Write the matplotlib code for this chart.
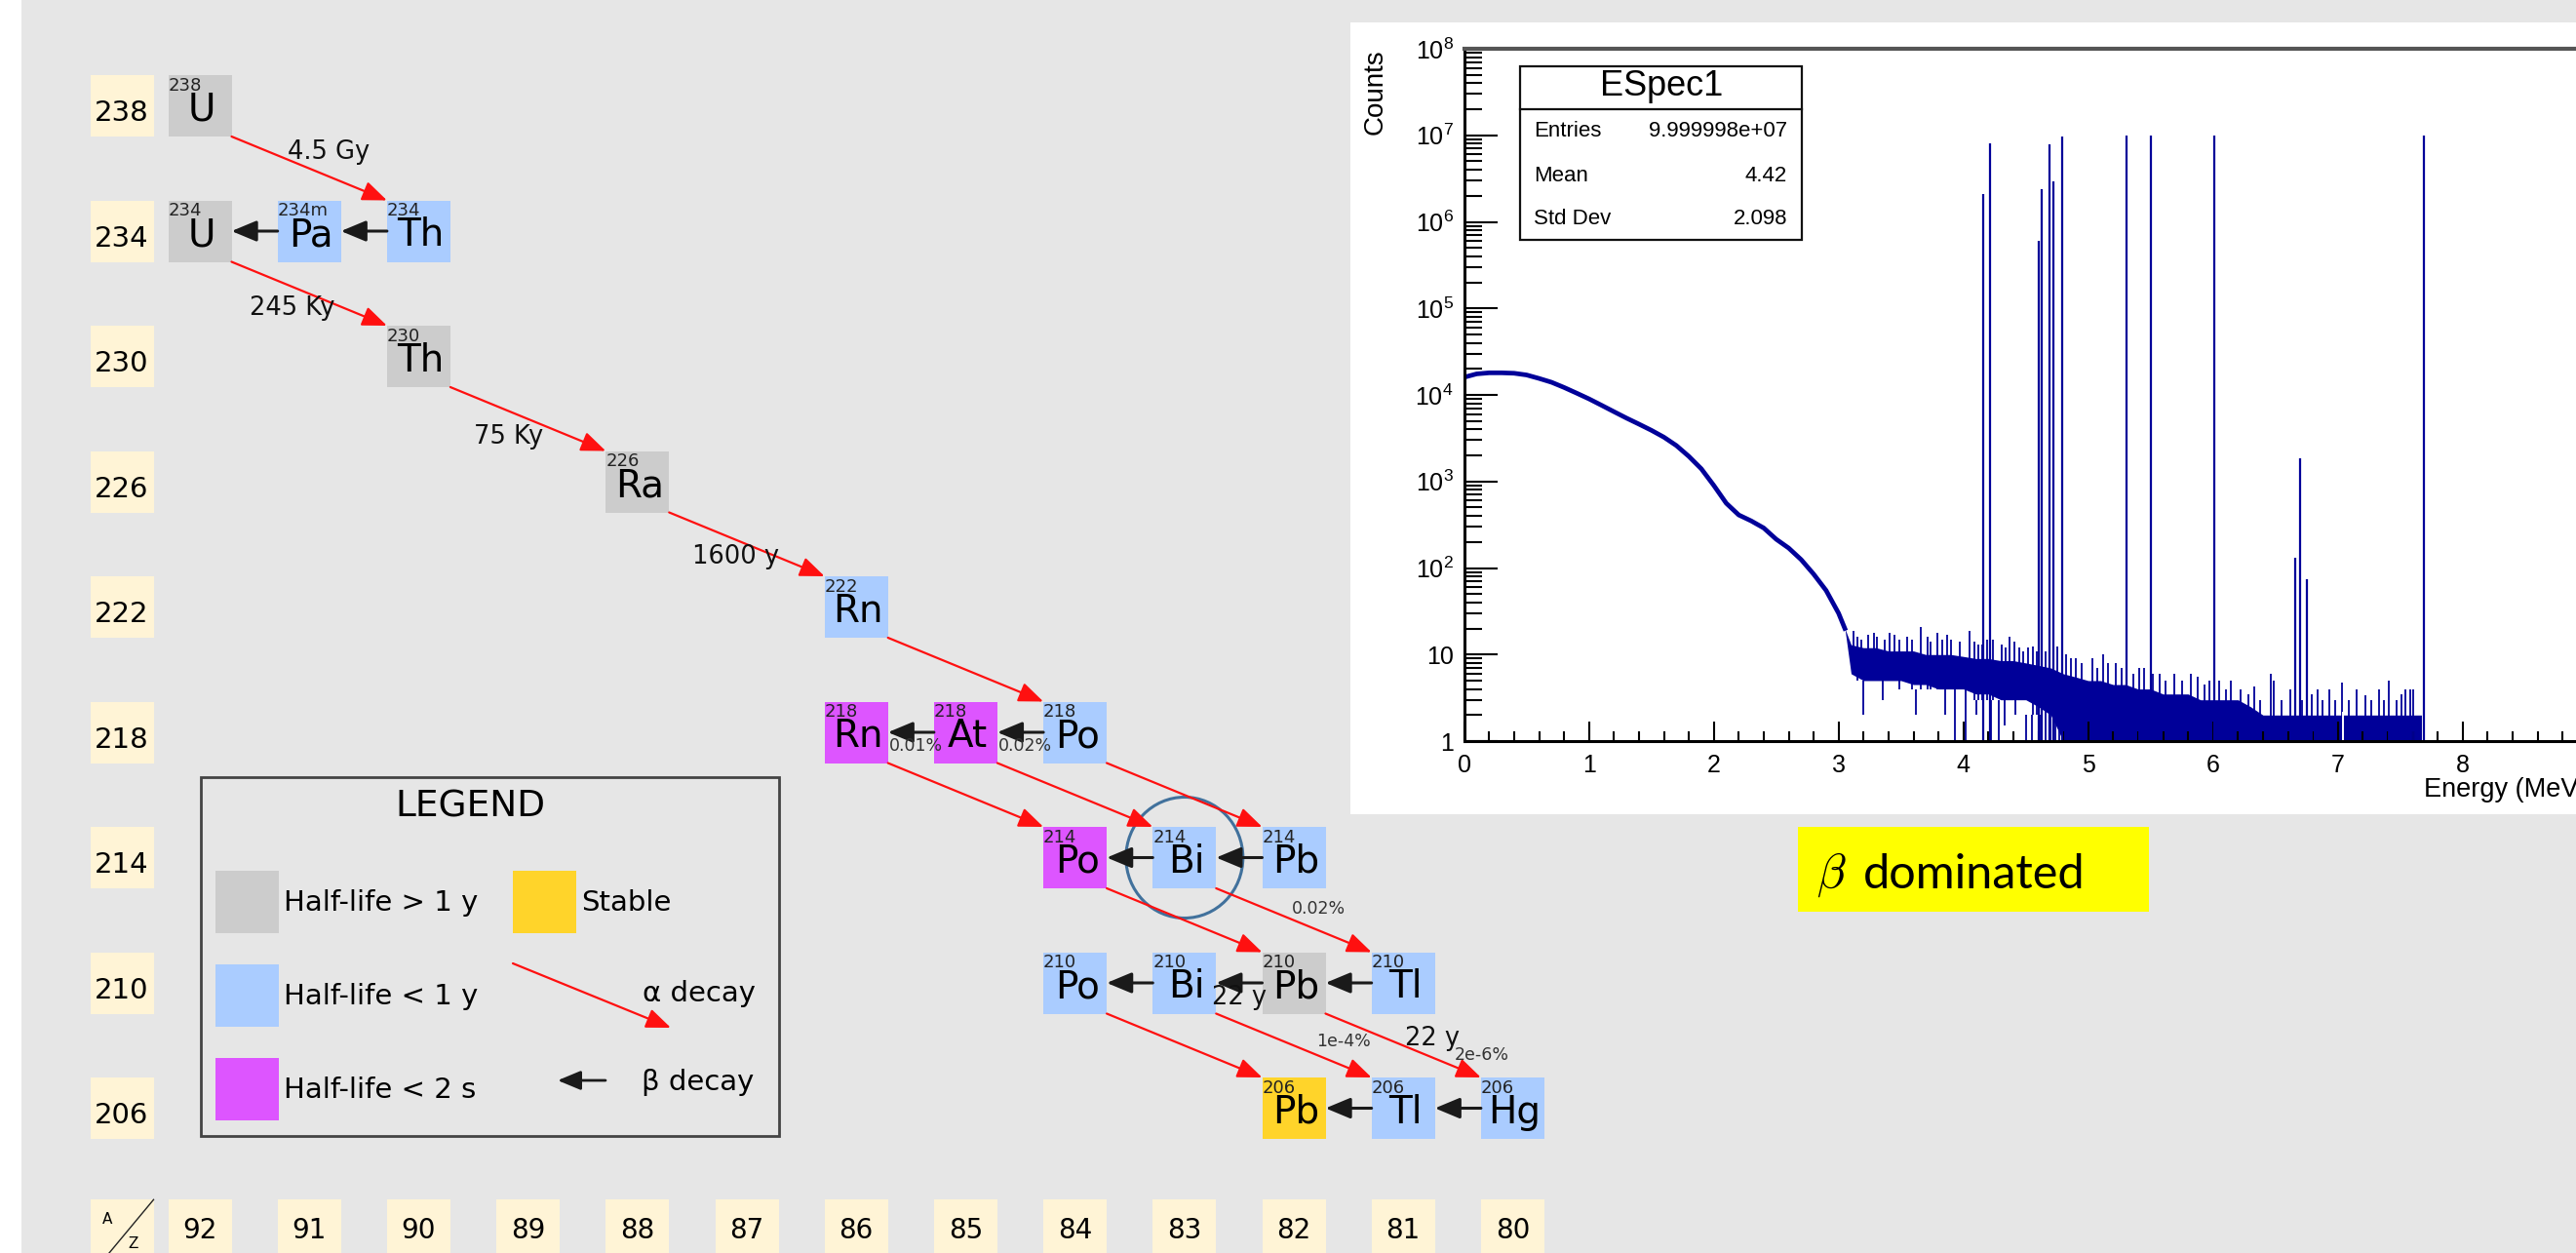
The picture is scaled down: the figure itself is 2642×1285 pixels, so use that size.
import math
import matplotlib
matplotlib.use('Agg')
import matplotlib.pyplot as plt
import matplotlib.ticker as mticker
from matplotlib.patches import Rectangle, Ellipse, FancyArrowPatch
from matplotlib.lines import Line2D

# ==========================================
# CANVAS / LAYOUT
# ==========================================
W, H = 2642, 1285
DPI = 100
PX_Z = 112.2      # pixels per unit of Z
PX_A = 32.125     # pixels per unit of A
BW = 65 / PX_Z / 2
BH = 63 / PX_A / 2

BG = '#e6e6e6'
CREAM = '#fff4d6'
HIST = '#000099'
COLORS = {'long': '#cccccc', 'short': '#aaccff', 'flash': '#dd55ff', 'stable': '#ffd42a'}

plt.rcParams['font.family'] = 'DejaVu Sans'
plt.rcParams['mathtext.fontset'] = 'custom'
plt.rcParams['mathtext.rm'] = 'Liberation Sans'
plt.rcParams['mathtext.it'] = 'Liberation Sans:italic'
plt.rcParams['mathtext.bf'] = 'Liberation Sans:bold'

# ==========================================
# DECAY CHAIN DATA
# ==========================================
symbols = ['U', 'U', 'Pa', 'Th', 'Th', 'Ra', 'Rn', 'Rn', 'At', 'Po',
           'Po', 'Bi', 'Pb', 'Po', 'Bi', 'Pb', 'Tl', 'Pb', 'Tl', 'Hg']
z_vals = [92, 92, 91, 90, 90, 88, 86, 86, 85, 84,
          84, 83, 82, 84, 83, 82, 81, 82, 81, 80]
a_vals = [238, 234, 234, 234, 230, 226, 222, 218, 218, 218,
          214, 214, 214, 210, 210, 210, 210, 206, 206, 206]
mass_labels = ['238', '234', '234m', '234', '230', '226', '222', '218', '218', '218',
               '214', '214', '214', '210', '210', '210', '210', '206', '206', '206']
halflife = ['long', 'long', 'short', 'short', 'long', 'long', 'short', 'flash', 'flash', 'short',
            'flash', 'short', 'short', 'short', 'short', 'long', 'short', 'stable', 'short', 'short']

# alpha decays: parent (Z, A) -> (Z-2, A-4)
alpha_from = [(92, 238), (92, 234), (90, 230), (88, 226), (86, 222), (84, 218), (85, 218),
              (86, 218), (84, 214), (83, 214), (84, 210), (83, 210), (82, 210)]
alpha_text = ['4.5 Gy', '245 Ky', '75 Ky', '1600 y', '', '', '',
              '', '', '0.02%', '', '1e-4%', '22 y']
alpha_note = ['', '', '', '', '', '', '', '', '', '', '', '', '2e-6%']

# beta decays: parent (Z, A) -> (Z+1, A)
beta_from = [(90, 234), (91, 234), (84, 218), (85, 218), (82, 214), (83, 214),
             (81, 210), (82, 210), (83, 210), (80, 206), (81, 206)]
beta_text = ['', '', '0.02%', '0.01%', '', '', '', '22 y', '', '', '']

row_labels = [238, 234, 230, 226, 222, 218, 214, 210, 206]
col_labels = [92, 91, 90, 89, 88, 87, 86, 85, 84, 83, 82, 81, 80]

# label offsets in pixels from arrow midpoints (layout only)
alpha_text_off = [(20, 17), (-17, -15), (-20, -18), (-11, -13), None, None, None,
                  None, None, (25, 12), None, (51, 4), (30, 7)]
alpha_note_off = (81, -10)
beta_text_off = [None, None, (5, -14), (5, -14), None, None, None, (0, -15), None, None, None]

# ==========================================
# SPECTRUM DATA
# ==========================================
cont_e = [0.0, 0.1, 0.2, 0.3, 0.4, 0.5, 0.6, 0.7, 0.8, 0.9, 1.0, 1.1, 1.2, 1.3, 1.4, 1.5,
          1.6, 1.7, 1.8, 1.9, 2.0, 2.1, 2.2, 2.3, 2.4, 2.5, 2.6, 2.7, 2.8, 2.9, 3.0, 3.05]
cont_counts = [16000, 17500, 18000, 18000, 17800, 17000, 15500, 14000, 12200, 10500, 9000,
               7600, 6400, 5400, 4600, 3900, 3250, 2600, 1950, 1400, 900, 560, 410, 350,
               290, 215, 170, 125, 85, 55, 30, 20]

band_e = [3.05, 3.1, 3.2, 3.3, 3.4, 3.5, 3.6, 3.7, 3.8, 3.9, 4.0, 4.1, 4.2, 4.3, 4.4, 4.5,
          4.6, 4.7, 4.8, 4.9, 5.0, 5.1, 5.2, 5.3, 5.4, 5.5, 5.6, 5.7, 5.8, 5.9, 6.0, 6.1,
          6.2, 6.3, 6.4, 6.5, 6.6, 6.7, 6.8, 6.9, 7.0, 7.1, 7.2, 7.3, 7.4, 7.5, 7.6, 7.67]
band_top = [20, 13, 12, 12, 11, 11, 11, 10, 10, 10, 9.5, 9, 9, 8.5, 8.5, 8,
            7.5, 7, 6, 5.5, 5, 5, 4.5, 4.5, 4, 4, 3.5, 3.5, 3.5, 3, 3, 3,
            3, 2.5, 2, 2, 2, 2, 2, 2, 2, 2, 2, 2, 2, 2, 2, 2]
band_bottom = [20, 6, 5, 5, 5, 5, 4.5, 4.5, 4, 4, 4, 3.5, 3.5, 3, 3, 3,
               2.5, 2, 1, 1, 1, 1, 1, 1, 1, 1, 1, 1, 1, 1, 1, 1,
               1, 1, 1, 1, 1, 1, 1, 1, 1, 1, 1, 1, 1, 1, 1, 1]

spike_e = [3.12, 3.15, 3.18, 3.24, 3.28, 3.31, 3.37, 3.41, 3.45, 3.49, 3.55, 3.59, 3.66,
           3.71, 3.74, 3.79, 3.83, 3.87, 3.90, 3.97, 4.05, 4.09, 4.12, 4.15, 4.19, 4.24,
           4.31, 4.34, 4.37, 4.41, 4.45, 4.48, 4.52, 4.56, 4.59, 4.66, 4.75, 4.82, 4.86,
           4.90, 4.95, 5.03, 5.07, 5.12, 5.16, 5.22, 5.27, 5.31, 5.36, 5.41, 5.45, 5.52,
           5.57, 5.62, 5.69, 5.75, 5.82, 5.88, 5.93, 5.97, 6.05, 6.10, 6.14, 6.22, 6.28,
           6.33, 6.38, 6.46, 6.49, 6.55, 6.62, 6.71, 6.79, 6.84, 6.88, 6.93, 6.98, 7.03,
           7.09, 7.15, 7.22, 7.27, 7.33, 7.37, 7.41, 7.47, 7.51, 7.54, 7.58, 7.60,
           3.20, 3.35, 3.62, 3.85, 3.93, 4.02, 4.10, 4.22, 4.28, 4.33, 4.42, 4.50, 4.55,
           4.62, 4.66, 4.70, 4.74, 4.77]
spike_lo = [6, 5, 6, 5, 5, 5, 5, 5, 5, 4, 5, 4, 4,
            4, 4, 4, 4, 4, 4, 4, 4, 3, 3, 3, 3, 3,
            3, 3, 3, 3, 3, 3, 3, 2, 2, 2, 2, 1, 1,
            1, 1, 1, 1, 1, 1, 1, 1, 1, 1, 1, 1, 1,
            1, 1, 1, 1, 1, 1, 1, 1, 1, 1, 1, 1, 1,
            1, 1, 1, 1, 1, 1, 1, 1, 1, 1, 1, 1, 1,
            1, 1, 1, 1, 1, 1, 1, 1, 1, 1, 1, 1,
            2, 3, 2, 2, 1, 1, 2, 1, 1, 1.5, 2, 1, 1,
            1, 1, 1, 1, 1]
spike_hi = [19, 16, 15, 17, 18, 16, 15, 18, 17, 15, 16, 15, 21,
            16, 14, 18, 15, 17, 15, 14, 19, 14, 13, 13, 15, 15,
            13, 12, 16, 14, 12, 11, 12, 12.5, 11, 11, 12.5, 10, 9,
            9, 8, 9, 7, 10, 8, 8, 7, 8, 6, 7, 7, 6,
            6, 5, 6, 5, 6, 5.5, 4.5, 5, 5, 4, 5, 4, 3.5,
            4.3, 3, 6, 5, 3, 4, 3, 3.5, 4, 3, 4, 3, 4.7,
            3, 4, 3.4, 3, 4, 3, 5, 3, 3.5, 4, 4, 4,
            5, 5, 4, 4, 4, 4, 3, 3, 3, 3, 3, 2, 2,
            2, 2, 2, 2, 2]
gap_e = [7.04]

peak_e = [4.16, 4.21, 4.60, 4.63, 4.69, 4.72, 4.79, 5.31, 5.50, 6.01, 6.66, 6.70, 6.75, 7.69]
peak_counts = [2.1e6, 8.1e6, 6e5, 2.4e6, 7.9e6, 2.9e6, 9.7e6, 1e7, 1e7, 1e7, 130, 1860, 74, 1e7]

stats_rows = [('Entries', '9.999998e+07'), ('Mean', '4.42'), ('Std Dev', '2.098')]


def fpx(x, y):
    """pixel (from top-left) -> figure fraction"""
    return (x / W, 1 - y / H)


# ==========================================
# FIGURE
# ==========================================
fig = plt.figure(figsize=(W / DPI, H / DPI), dpi=DPI)
fig.patch.set_facecolor('white')
fig.patches.append(Rectangle(fpx(22, H), 1, 1, transform=fig.transFigure,
                             facecolor=BG, edgecolor='none', zorder=-1))

ax = fig.add_axes([0, 0, 1, 1])
ax.set_facecolor('none')
ax.set_xlim(92 + 205 / PX_Z, 92 - (W - 205) / PX_Z)
ax.set_ylim(238 - (H - 108.5) / PX_A, 238 + 108.5 / PX_A)
ax.axis('off')

# row / column label boxes
row_z = 92 + 80 / PX_Z
for a in row_labels:
    ax.add_patch(Rectangle((row_z - BW, a - BH), 2 * BW, 2 * BH, fc=CREAM, ec='none'))
    ax.text(row_z, a - 15.5 / PX_A, str(a), ha='center', va='baseline', fontsize=21)
col_a = 202.1
for z in col_labels:
    ax.add_patch(Rectangle((z - BW, col_a - BH), 2 * BW, 2 * BH, fc=CREAM, ec='none'))
    ax.text(z, col_a, str(z), ha='center', va='center', fontsize=20)
ax.add_patch(Rectangle((row_z - BW, col_a - BH), 2 * BW, 2 * BH, fc=CREAM, ec='none'))
ax.plot([row_z - BW, row_z + 0.86 * BW], [col_a + BH, col_a - BH - 0.3], color='#222', lw=1)
ax.text(row_z + 0.45 * BW, col_a + 0.35 * BH, 'A', ha='center', va='center', fontsize=11)
ax.text(row_z - 0.35 * BW, col_a - 0.45 * BH, 'Z', ha='center', va='center', fontsize=11)

# nuclide boxes
for sym, z, a, m, hl in zip(symbols, z_vals, a_vals, mass_labels, halflife):
    ax.add_patch(Rectangle((z - BW, a - BH), 2 * BW, 2 * BH, fc=COLORS[hl], ec='none'))
    ax.text(z - 2 / PX_Z, a - 15 / PX_A, sym, ha='center', va='baseline', fontsize=28)
    ax.text(z + BW, a + 16 / PX_A, m, ha='left', va='baseline', fontsize=13, color='#222')

# alpha arrows
for i, (z, a) in enumerate(alpha_from):
    start = (z - BW, a - BH)
    end = (z - 2 + BW, a - 4 + BH)
    ax.annotate('', xy=end, xytext=start,
                arrowprops=dict(arrowstyle='-|>,head_length=0.55,head_width=0.22',
                                color='#ff1010', lw=1.6, mutation_scale=28,
                                shrinkA=0, shrinkB=0))
    mid = ((start[0] + end[0]) / 2, (start[1] + end[1]) / 2)
    if alpha_text[i]:
        big = 'y' in alpha_text[i]
        ax.annotate(alpha_text[i], xy=mid, xytext=alpha_text_off[i], textcoords='offset pixels',
                    ha='center', va='center', fontsize=18.5 if big else 12.5,
                    color='#111' if big else '#333')
    if alpha_note[i]:
        ax.annotate(alpha_note[i], xy=mid, xytext=alpha_note_off, textcoords='offset pixels',
                    ha='center', va='center', fontsize=12.5, color='#333')

# beta arrows
for i, (z, a) in enumerate(beta_from):
    start = (z + BW, a)
    end = (z + 1 - BW, a)
    ax.annotate('', xy=end, xytext=start,
                arrowprops=dict(arrowstyle='-|>,head_length=0.6,head_width=0.25',
                                color='#1a1a1a', lw=2.2, mutation_scale=26,
                                shrinkA=0, shrinkB=0))
    if beta_text[i]:
        big = 'y' in beta_text[i]
        mid = ((start[0] + end[0]) / 2, a)
        ax.annotate(beta_text[i], xy=mid, xytext=beta_text_off[i], textcoords='offset pixels',
                    ha='center', va='center', fontsize=18.5 if big else 12.5,
                    color='#111' if big else '#333')

# highlight around Bi-214
ax.add_patch(Ellipse((83, 214), 120 / PX_Z, 124 / PX_A, fill=False, ec='#41719c', lw=2.2))

# ==========================================
# LEGEND
# ==========================================
def fig_rect(x0, y0, x1, y1, **kw):
    bx, by = fpx(x0, y1)
    fig.patches.append(Rectangle((bx, by), (x1 - x0) / W, (y1 - y0) / H,
                                 transform=fig.transFigure, **kw))


fig_rect(206, 797, 799, 1165, fill=False, ec='#444', lw=2, zorder=1)
fig.text(*fpx(482, 827), 'LEGEND', ha='center', va='center', fontsize=27)
legend_items = [('long', 221, 893, 'Half-life > 1 y'), ('short', 221, 989, 'Half-life < 1 y'),
                ('flash', 221, 1085, 'Half-life < 2 s'), ('stable', 526, 893, 'Stable')]
for key, x0, y0, label in legend_items:
    fig_rect(x0, y0, x0 + 65, y0 + 64, fc=COLORS[key], ec='none', zorder=1)
    fig.text(*fpx(x0 + 70, y0 + 33), label, ha='left', va='center', fontsize=21)
fig.add_artist(FancyArrowPatch(
    fpx(526, 988), fpx(688, 1054), transform=fig.transFigure,
    arrowstyle='-|>,head_length=0.55,head_width=0.22', color='#ff1010', lw=1.6,
    mutation_scale=28, shrinkA=0, shrinkB=0))
fig.add_artist(FancyArrowPatch(
    fpx(621, 1108), fpx(572, 1108), transform=fig.transFigure,
    arrowstyle='-|>,head_length=0.6,head_width=0.25', color='#1a1a1a', lw=2,
    mutation_scale=24, shrinkA=0, shrinkB=0))
fig.text(*fpx(775, 1019), 'α decay', ha='right', va='center', fontsize=21)
fig.text(*fpx(773, 1110), 'β decay', ha='right', va='center', fontsize=21)

# ==========================================
# SPECTRUM INSET
# ==========================================
fig_rect(1385, 22.7, W + 5, 835, fc='white', ec='none', zorder=0.5)

ax2 = fig.add_axes([1501.7 / W, 1 - 760 / H, 9 * 128 / W, 710 / H], zorder=2)
ax2.set_facecolor('none')
ax2.set_yscale('log')
ax2.set_xlim(0, 9)
ax2.set_ylim(1, 1e8)

ax2.plot(cont_e, cont_counts, color=HIST, lw=3.4, solid_joinstyle='round')
ax2.fill_between(band_e, band_bottom, band_top, color=HIST, lw=0)
ax2.vlines(spike_e, spike_lo, spike_hi, color=HIST, lw=1.3)
ax2.vlines(gap_e, 1, 2.2, color='white', lw=1.4)
ax2.vlines(peak_e, 1, peak_counts, color=HIST, lw=1.6)

ax2.xaxis.set_major_locator(mticker.MultipleLocator(1))
ax2.xaxis.set_minor_locator(mticker.MultipleLocator(0.2))
ax2.yaxis.set_major_locator(mticker.LogLocator(base=10, numticks=20))
ax2.yaxis.set_minor_locator(mticker.LogLocator(base=10, subs=range(2, 10), numticks=20))


def ylab(v, pos):
    if v < 1.5:
        return '1'
    if v < 15:
        return '10'
    return r'$10^{%d}$' % round(math.log10(v))


def xlab(v, pos):
    return '' if v > 8.5 else '%d' % round(v)


ax2.yaxis.set_major_formatter(mticker.FuncFormatter(ylab))
ax2.yaxis.set_minor_formatter(mticker.NullFormatter())
ax2.xaxis.set_major_formatter(mticker.FuncFormatter(xlab))
ax2.tick_params(axis='y', which='major', direction='in', length=24.5, width=1.5,
                labelsize=18, pad=8, right=False)
ax2.tick_params(axis='y', which='minor', direction='in', length=13, width=1.5, right=False)
ax2.tick_params(axis='x', which='major', direction='in', length=14.4, width=1.5,
                labelsize=18, pad=9, top=False)
ax2.tick_params(axis='x', which='minor', direction='in', length=7.2, width=1.5, top=False)
for lab in ax2.get_xticklabels() + ax2.get_yticklabels():
    lab.set_family('Liberation Sans')
for side in ('left', 'bottom'):
    ax2.spines[side].set_linewidth(2.2)
    ax2.spines[side].set_color('black')
ax2.spines['top'].set_linewidth(3)
ax2.spines['top'].set_color('#555555')
ax2.spines['right'].set_visible(False)

fig.text(*fpx(1411, 50), 'Counts', rotation=90, ha='center', va='top', fontsize=20,
         family='Liberation Sans')
fig.text(*fpx(2654, 810), 'Energy (MeV)', ha='right', va='center', fontsize=19.5,
         family='Liberation Sans')

# stats box
fig_rect(1559, 67.7, 1848, 245.7, fc='white', ec='#111', lw=1.6, zorder=3)
fig.add_artist(Line2D([1559 / W, 1848 / W], [1 - 111.7 / H, 1 - 111.7 / H],
                      transform=fig.transFigure, color='#111', lw=1.6, zorder=3.1))
fig.text(*fpx(1704, 89), 'ESpec1', ha='center', va='center', fontsize=26,
         family='Liberation Sans', zorder=4)
for k, (name, val) in enumerate(stats_rows):
    y = 135 + 45 * k
    fig.text(*fpx(1573, y), name, ha='left', va='center', fontsize=16,
             family='Liberation Sans', zorder=4)
    fig.text(*fpx(1833, y), val, ha='right', va='center', fontsize=16,
             family='Liberation Sans', zorder=4)

# beta dominated tag
fig_rect(1844, 848, 2204, 935, fc='#ffff00', ec='none', zorder=1)
fig.text(*fpx(1863, 911), r'$\beta$', ha='left', va='baseline', fontsize=35,
         math_fontfamily='cm')
fig.text(*fpx(1911, 911), 'dominated', ha='left', va='baseline', fontsize=35, family='Lato')

fig.savefig('out.png', dpi=DPI)
